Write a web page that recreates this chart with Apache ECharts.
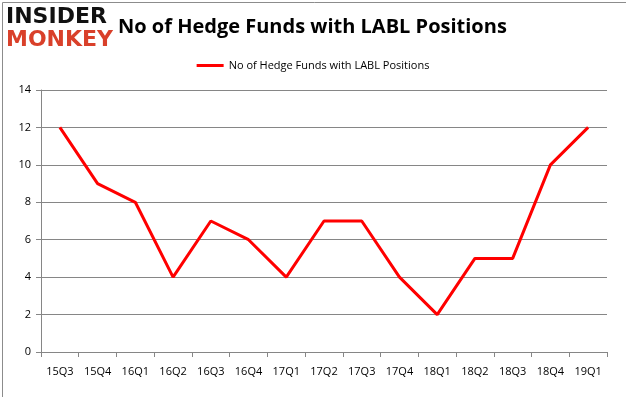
<!DOCTYPE html>
<html>
<head>
<meta charset="utf-8">
<script src="https://cdn.jsdelivr.net/npm/echarts@6/dist/echarts.min.js"></script>
<style>
  html, body { margin: 0; padding: 0; background: #fff; }
  #chart { width: 626px; height: 397px; }
</style>
</head>
<body>
<div id="chart"></div>
<script>
const quarters = ['15Q3', '15Q4', '16Q1', '16Q2', '16Q3', '16Q4', '17Q1', '17Q2', '17Q3', '17Q4', '18Q1', '18Q2', '18Q3', '18Q4', '19Q1'];
const hedgeFunds = [12, 9, 8, 4, 7, 6, 4, 7, 7, 4, 2, 5, 5, 10, 12];
const seriesName = 'No of Hedge Funds with LABL Positions';

const chart = echarts.init(document.getElementById('chart'));

chart.setOption({
    animation: false,
    title: {
        text: 'No of Hedge Funds with LABL Positions',
        left: 113,
        top: 12,
        textStyle: {
            fontFamily: 'Open Sans',
            fontSize: 20,
            fontWeight: 'bold',
            color: '#000'
        }
    },
    graphic: [
        {
            type: 'rect',
            left: 0, top: 0,
            shape: { width: 625, height: 396 },
            style: { fill: 'none', stroke: '#8c8c8c', lineWidth: 1 }
        },
        {
            type: 'text',
            left: 6, top: 6,
            style: {
                text: 'INSIDER',
                font: '900 22px "DejaVu Sans"',
                fill: '#111'
            }
        },
        {
            type: 'text',
            left: 6, top: 29,
            style: {
                text: 'MONKEY',
                font: '900 22px "DejaVu Sans"',
                fill: '#d9402a'
            }
        }
    ],
    legend: {
        data: [seriesName],
        top: 55,
        left: 'center',
        icon: 'rect',
        itemWidth: 27,
        itemHeight: 3,
        itemGap: 4,
        textStyle: { fontFamily: 'Open Sans', fontSize: 11, color: '#000' }
    },
    grid: {
        left: 41,
        right: 19,
        top: 90,
        bottom: 45
    },
    xAxis: {
        type: 'category',
        data: quarters,
        boundaryGap: true,
        axisLine: { lineStyle: { color: '#868686' } },
        axisTick: { show: true, alignWithLabel: false, length: 5, lineStyle: { color: '#868686' } },
        axisLabel: { fontFamily: 'Open Sans', fontSize: 11, color: '#000', margin: 14 }
    },
    yAxis: {
        type: 'value',
        min: 0,
        max: 14,
        interval: 2,
        axisLine: { show: true, lineStyle: { color: '#868686' } },
        axisTick: { show: true, length: 5, inside: false, lineStyle: { color: '#868686' } },
        axisLabel: { fontFamily: 'Open Sans', fontSize: 11, color: '#000', margin: 10 },
        splitLine: { lineStyle: { color: '#868686', width: 1 } }
    },
    series: [{
        name: seriesName,
        type: 'line',
        data: hedgeFunds,
        symbol: 'none',
        lineStyle: { color: '#ff0000', width: 3 },
        itemStyle: { color: '#ff0000' }
    }]
});
</script>
</body>
</html>
